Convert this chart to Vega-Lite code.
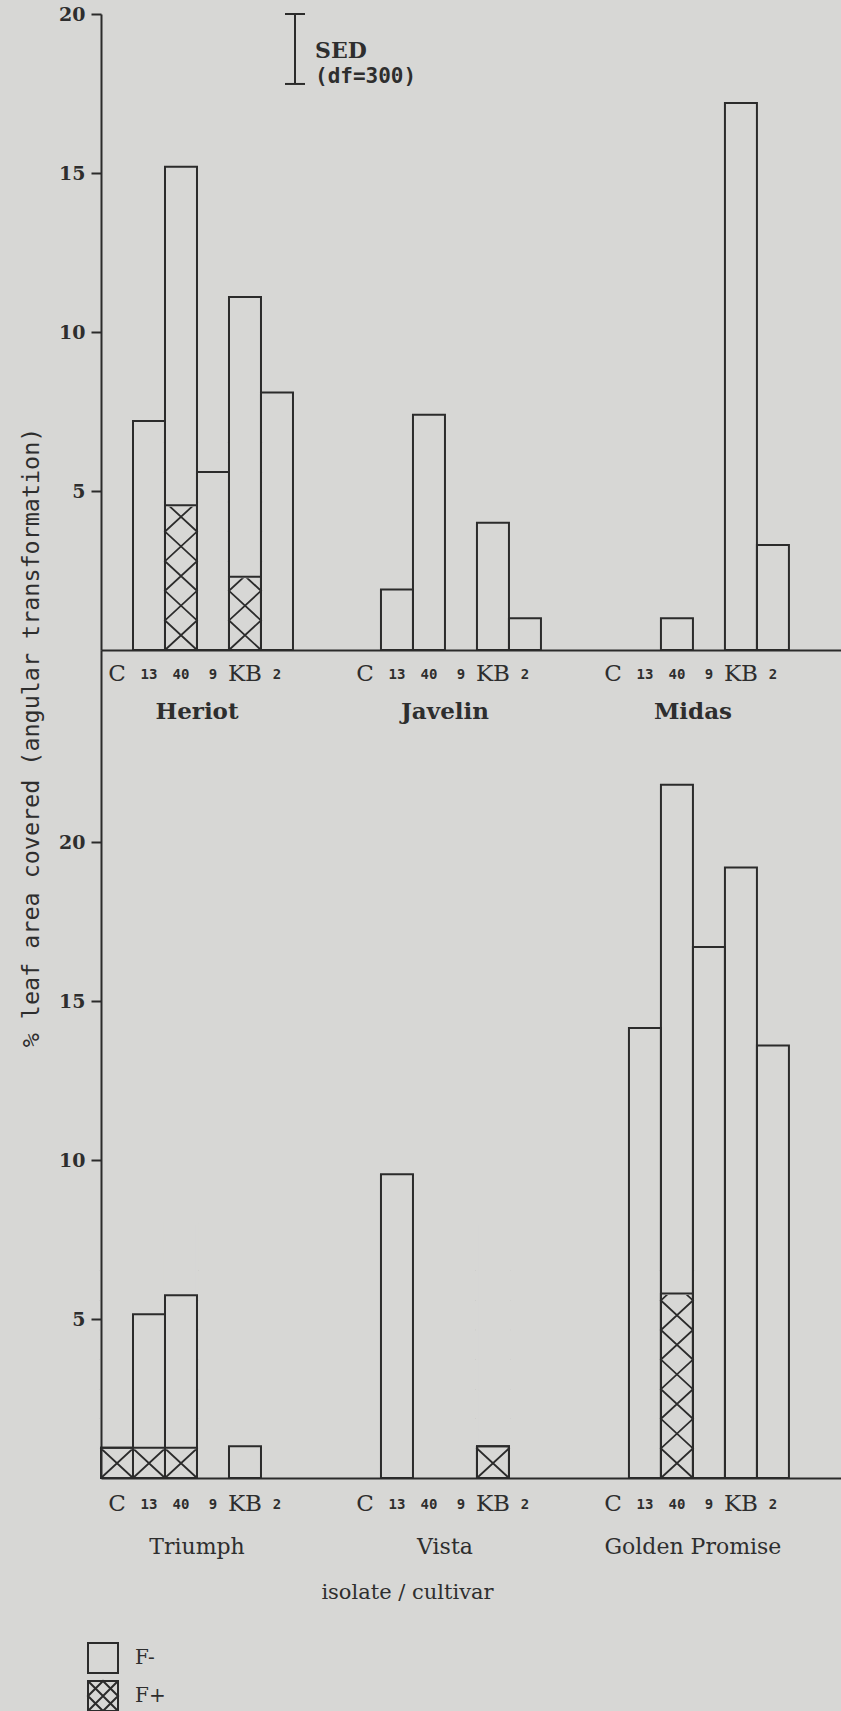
{
  "$schema": "https://vega.github.io/schema/vega-lite/v6.json",
  "background": "#d7d7d5",
  "padding": {"left": 18, "top": 5, "right": 0, "bottom": 10},
  "autosize": {"type": "pad"},
  "bounds": "flush",
  "spacing": 0,
  "datasets": {
    "upper": [
      {"cultivar": "Heriot", "isolate": "C", "f_minus": 0, "f_plus": 0},
      {"cultivar": "Heriot", "isolate": "13", "f_minus": 7.2, "f_plus": 0},
      {"cultivar": "Heriot", "isolate": "40", "f_minus": 15.2, "f_plus": 4.55},
      {"cultivar": "Heriot", "isolate": "9", "f_minus": 5.6, "f_plus": 0},
      {"cultivar": "Heriot", "isolate": "KB", "f_minus": 11.1, "f_plus": 2.3},
      {"cultivar": "Heriot", "isolate": "2", "f_minus": 8.1, "f_plus": 0},
      {"cultivar": "Javelin", "isolate": "C", "f_minus": 0, "f_plus": 0},
      {"cultivar": "Javelin", "isolate": "13", "f_minus": 1.9, "f_plus": 0},
      {"cultivar": "Javelin", "isolate": "40", "f_minus": 7.4, "f_plus": 0},
      {"cultivar": "Javelin", "isolate": "9", "f_minus": 0, "f_plus": 0},
      {"cultivar": "Javelin", "isolate": "KB", "f_minus": 4.0, "f_plus": 0},
      {"cultivar": "Javelin", "isolate": "2", "f_minus": 1.0, "f_plus": 0},
      {"cultivar": "Midas", "isolate": "C", "f_minus": 0, "f_plus": 0},
      {"cultivar": "Midas", "isolate": "13", "f_minus": 0, "f_plus": 0},
      {"cultivar": "Midas", "isolate": "40", "f_minus": 1.0, "f_plus": 0},
      {"cultivar": "Midas", "isolate": "9", "f_minus": 0, "f_plus": 0},
      {"cultivar": "Midas", "isolate": "KB", "f_minus": 17.2, "f_plus": 0},
      {"cultivar": "Midas", "isolate": "2", "f_minus": 3.3, "f_plus": 0}
    ],
    "lower": [
      {"cultivar": "Triumph", "isolate": "C", "f_minus": 0.95, "f_plus": 0.95},
      {"cultivar": "Triumph", "isolate": "13", "f_minus": 5.15, "f_plus": 0.95},
      {"cultivar": "Triumph", "isolate": "40", "f_minus": 5.75, "f_plus": 0.95},
      {"cultivar": "Triumph", "isolate": "9", "f_minus": 0, "f_plus": 0},
      {"cultivar": "Triumph", "isolate": "KB", "f_minus": 1.0, "f_plus": 0},
      {"cultivar": "Triumph", "isolate": "2", "f_minus": 0, "f_plus": 0},
      {"cultivar": "Vista", "isolate": "C", "f_minus": 0, "f_plus": 0},
      {"cultivar": "Vista", "isolate": "13", "f_minus": 9.55, "f_plus": 0},
      {"cultivar": "Vista", "isolate": "40", "f_minus": 0, "f_plus": 0},
      {"cultivar": "Vista", "isolate": "9", "f_minus": 0, "f_plus": 0},
      {"cultivar": "Vista", "isolate": "KB", "f_minus": 1.0, "f_plus": 1.0},
      {"cultivar": "Vista", "isolate": "2", "f_minus": 0, "f_plus": 0},
      {"cultivar": "Golden Promise", "isolate": "C", "f_minus": 0, "f_plus": 0},
      {"cultivar": "Golden Promise", "isolate": "13", "f_minus": 14.15, "f_plus": 0},
      {"cultivar": "Golden Promise", "isolate": "40", "f_minus": 21.8, "f_plus": 5.8},
      {"cultivar": "Golden Promise", "isolate": "9", "f_minus": 16.7, "f_plus": 0},
      {"cultivar": "Golden Promise", "isolate": "KB", "f_minus": 19.2, "f_plus": 0},
      {"cultivar": "Golden Promise", "isolate": "2", "f_minus": 13.6, "f_plus": 0}
    ],
    "sed": [{"lo": 17.8, "hi": 20}],
    "series": [{"series": "F-"}, {"series": "F+"}]
  },
  "vconcat": [
    {
      "width": 741,
      "height": 636,
      "data": {"name": "upper"},
      "layer": [
        {
          "transform": [{"filter": "datum.f_plus > 0"}],
          "mark": {"type": "point", "shape": "M-1,0L1,-1.85L-1,-3.7L1,-5.55L-1,-7.4L1,-9.25L-1,-11.1L1,-12.95L-1,-14.8M1,0L-1,-1.85L1,-3.7L-1,-5.55L1,-7.4L-1,-9.25L1,-11.1L-1,-12.95L1,-14.8", "size": 1024, "filled": false, "color": "#2b2b2b", "strokeWidth": 1.8, "opacity": 1},
          "encoding": {
            "x": {"field": "cultivar", "type": "nominal", "scale": {"domain": ["Heriot", "Javelin", "Midas"], "paddingInner": 0.2258, "paddingOuter": 0.107, "align": 0}, "axis": {"labels": false, "ticks": false, "title": null, "zindex": 1}},
            "xOffset": {"field": "isolate", "type": "nominal", "scale": {"domain": ["C", "13", "40", "9", "KB", "2"], "paddingInner": 0, "paddingOuter": 0}},
            "y": {"datum": 0, "type": "quantitative", "scale": {"domain": [0, 20], "nice": false, "zero": false}, "axis": {"values": [5, 10, 15, 20], "title": null, "zindex": 1}}
          }
        },
        {
          "transform": [{"filter": "datum.f_plus > 0"}],
          "mark": {"type": "bar", "fill": "#d7d7d5", "stroke": "#d7d7d5", "strokeWidth": 3},
          "encoding": {
            "x": {"field": "cultivar", "type": "nominal", "scale": {"domain": ["Heriot", "Javelin", "Midas"], "paddingInner": 0.2258, "paddingOuter": 0.107, "align": 0}, "axis": {"labels": false, "ticks": false, "title": null, "zindex": 1}},
            "xOffset": {"field": "isolate", "type": "nominal", "scale": {"domain": ["C", "13", "40", "9", "KB", "2"], "paddingInner": 0, "paddingOuter": 0}},
            "y": {"field": "f_plus", "type": "quantitative", "stack": null, "scale": {"domain": [0, 20], "nice": false, "zero": false}, "axis": {"values": [5, 10, 15, 20], "title": null, "zindex": 1}},
            "y2": {"datum": 8}
          }
        },
        {
          "transform": [{"filter": "datum.f_plus > 0"}],
          "mark": {"type": "bar", "fill": "transparent", "stroke": "#2b2b2b", "strokeWidth": 2},
          "encoding": {
            "x": {"field": "cultivar", "type": "nominal", "scale": {"domain": ["Heriot", "Javelin", "Midas"], "paddingInner": 0.2258, "paddingOuter": 0.107, "align": 0}, "axis": {"labels": false, "ticks": false, "title": null, "zindex": 1}},
            "xOffset": {"field": "isolate", "type": "nominal", "scale": {"domain": ["C", "13", "40", "9", "KB", "2"], "paddingInner": 0, "paddingOuter": 0}},
            "y": {"field": "f_plus", "type": "quantitative", "stack": null, "scale": {"domain": [0, 20], "nice": false, "zero": false}, "axis": {"values": [5, 10, 15, 20], "title": null, "zindex": 1}}
          }
        },
        {
          "transform": [{"filter": "datum.f_minus > 0"}],
          "mark": {"type": "bar", "fill": "transparent", "stroke": "#2b2b2b", "strokeWidth": 2},
          "encoding": {
            "x": {"field": "cultivar", "type": "nominal", "scale": {"domain": ["Heriot", "Javelin", "Midas"], "paddingInner": 0.2258, "paddingOuter": 0.107, "align": 0}, "axis": {"labels": false, "ticks": false, "title": null, "zindex": 1}},
            "xOffset": {"field": "isolate", "type": "nominal", "scale": {"domain": ["C", "13", "40", "9", "KB", "2"], "paddingInner": 0, "paddingOuter": 0}},
            "y": {"field": "f_minus", "type": "quantitative", "stack": null, "scale": {"domain": [0, 20], "nice": false, "zero": false}, "axis": {"values": [5, 10, 15, 20], "title": null, "zindex": 1}}
          }
        },
        {
          "transform": [{"filter": "datum.isolate === 'C' || datum.isolate === 'KB'"}],
          "mark": {"type": "text", "font": "DejaVu Serif", "fontSize": 23, "color": "#2e2e2e", "baseline": "middle", "dy": 24},
          "encoding": {
            "x": {"field": "cultivar", "type": "nominal", "scale": {"domain": ["Heriot", "Javelin", "Midas"], "paddingInner": 0.2258, "paddingOuter": 0.107, "align": 0}, "axis": {"labels": false, "ticks": false, "title": null, "zindex": 1}},
            "xOffset": {"field": "isolate", "type": "nominal", "scale": {"domain": ["C", "13", "40", "9", "KB", "2"], "paddingInner": 0, "paddingOuter": 0}},
            "y": {"datum": 0, "type": "quantitative", "scale": {"domain": [0, 20], "nice": false, "zero": false}, "axis": {"values": [5, 10, 15, 20], "title": null, "zindex": 1}},
            "text": {"field": "isolate"}
          }
        },
        {
          "transform": [{"filter": "datum.isolate !== 'C' && datum.isolate !== 'KB'"}],
          "mark": {"type": "text", "font": "DejaVu Sans Mono", "fontWeight": "bold", "fontSize": 14, "color": "#2e2e2e", "baseline": "middle", "dy": 25},
          "encoding": {
            "x": {"field": "cultivar", "type": "nominal", "scale": {"domain": ["Heriot", "Javelin", "Midas"], "paddingInner": 0.2258, "paddingOuter": 0.107, "align": 0}, "axis": {"labels": false, "ticks": false, "title": null, "zindex": 1}},
            "xOffset": {"field": "isolate", "type": "nominal", "scale": {"domain": ["C", "13", "40", "9", "KB", "2"], "paddingInner": 0, "paddingOuter": 0}},
            "y": {"datum": 0, "type": "quantitative", "scale": {"domain": [0, 20], "nice": false, "zero": false}, "axis": {"values": [5, 10, 15, 20], "title": null, "zindex": 1}},
            "text": {"field": "isolate"}
          }
        },
        {
          "transform": [{"aggregate": [{"op": "count", "as": "n"}], "groupby": ["cultivar"]}],
          "mark": {"type": "text", "font": "DejaVu Serif", "fontWeight": "bold", "fontSize": 23, "color": "#2e2e2e", "baseline": "middle", "dy": 62},
          "encoding": {
            "x": {"field": "cultivar", "type": "nominal", "scale": {"domain": ["Heriot", "Javelin", "Midas"], "paddingInner": 0.2258, "paddingOuter": 0.107, "align": 0}, "axis": {"labels": false, "ticks": false, "title": null, "zindex": 1}},
            "y": {"datum": 0, "type": "quantitative", "scale": {"domain": [0, 20], "nice": false, "zero": false}, "axis": {"values": [5, 10, 15, 20], "title": null, "zindex": 1}},
            "text": {"field": "cultivar"}
          }
        },
        {
          "data": {"name": "sed"},
          "mark": {"type": "rule", "color": "#2b2b2b", "strokeWidth": 2, "xOffset": 98},
          "encoding": {
            "x": {"datum": "Heriot", "type": "nominal", "scale": {"domain": ["Heriot", "Javelin", "Midas"], "paddingInner": 0.2258, "paddingOuter": 0.107, "align": 0}, "axis": {"labels": false, "ticks": false, "title": null, "zindex": 1}},
            "y": {"field": "lo", "type": "quantitative", "scale": {"domain": [0, 20], "nice": false, "zero": false}, "axis": {"values": [5, 10, 15, 20], "title": null, "zindex": 1}},
            "y2": {"field": "hi"}
          }
        },
        {
          "data": {"name": "sed"},
          "mark": {"type": "tick", "color": "#2b2b2b", "size": 20, "thickness": 2, "opacity": 1, "xOffset": 98},
          "encoding": {
            "x": {"datum": "Heriot", "type": "nominal", "scale": {"domain": ["Heriot", "Javelin", "Midas"], "paddingInner": 0.2258, "paddingOuter": 0.107, "align": 0}, "axis": {"labels": false, "ticks": false, "title": null, "zindex": 1}},
            "y": {"field": "hi", "type": "quantitative", "scale": {"domain": [0, 20], "nice": false, "zero": false}, "axis": {"values": [5, 10, 15, 20], "title": null, "zindex": 1}}
          }
        },
        {
          "data": {"name": "sed"},
          "mark": {"type": "tick", "color": "#2b2b2b", "size": 20, "thickness": 2, "opacity": 1, "xOffset": 98},
          "encoding": {
            "x": {"datum": "Heriot", "type": "nominal", "scale": {"domain": ["Heriot", "Javelin", "Midas"], "paddingInner": 0.2258, "paddingOuter": 0.107, "align": 0}, "axis": {"labels": false, "ticks": false, "title": null, "zindex": 1}},
            "y": {"field": "lo", "type": "quantitative", "scale": {"domain": [0, 20], "nice": false, "zero": false}, "axis": {"values": [5, 10, 15, 20], "title": null, "zindex": 1}}
          }
        },
        {
          "data": {"name": "sed"},
          "mark": {"type": "text", "text": "SED", "font": "DejaVu Serif", "fontWeight": "bold", "fontSize": 22, "color": "#2e2e2e", "align": "left", "baseline": "middle", "xOffset": 118, "dy": 37},
          "encoding": {
            "x": {"datum": "Heriot", "type": "nominal", "scale": {"domain": ["Heriot", "Javelin", "Midas"], "paddingInner": 0.2258, "paddingOuter": 0.107, "align": 0}, "axis": {"labels": false, "ticks": false, "title": null, "zindex": 1}},
            "y": {"field": "hi", "type": "quantitative", "scale": {"domain": [0, 20], "nice": false, "zero": false}, "axis": {"values": [5, 10, 15, 20], "title": null, "zindex": 1}}
          }
        },
        {
          "data": {"name": "sed"},
          "mark": {"type": "text", "text": "(df=300)", "font": "DejaVu Sans Mono", "fontWeight": "bold", "fontSize": 21, "color": "#2e2e2e", "align": "left", "baseline": "middle", "xOffset": 118, "dy": 63},
          "encoding": {
            "x": {"datum": "Heriot", "type": "nominal", "scale": {"domain": ["Heriot", "Javelin", "Midas"], "paddingInner": 0.2258, "paddingOuter": 0.107, "align": 0}, "axis": {"labels": false, "ticks": false, "title": null, "zindex": 1}},
            "y": {"field": "hi", "type": "quantitative", "scale": {"domain": [0, 20], "nice": false, "zero": false}, "axis": {"values": [5, 10, 15, 20], "title": null, "zindex": 1}}
          }
        }
      ]
    },
    {
      "width": 741,
      "height": 828,
      "data": {"name": "lower"},
      "layer": [
        {
          "transform": [{"filter": "datum.f_plus > 0"}],
          "mark": {"type": "point", "shape": "M-1,0L1,-1.85L-1,-3.7L1,-5.55L-1,-7.4L1,-9.25L-1,-11.1L1,-12.95L-1,-14.8M1,0L-1,-1.85L1,-3.7L-1,-5.55L1,-7.4L-1,-9.25L1,-11.1L-1,-12.95L1,-14.8", "size": 1024, "filled": false, "color": "#2b2b2b", "strokeWidth": 1.8, "opacity": 1},
          "encoding": {
            "x": {"field": "cultivar", "type": "nominal", "scale": {"domain": ["Triumph", "Vista", "Golden Promise"], "paddingInner": 0.2258, "paddingOuter": 0.107, "align": 0}, "axis": {"labels": false, "ticks": false, "title": "isolate / cultivar", "titleX": 306, "titleY": 114, "titleAlign": "center", "titleBaseline": "middle", "zindex": 1}},
            "xOffset": {"field": "isolate", "type": "nominal", "scale": {"domain": ["C", "13", "40", "9", "KB", "2"], "paddingInner": 0, "paddingOuter": 0}},
            "y": {"datum": 0, "type": "quantitative", "scale": {"domain": [0, 26.04], "nice": false, "zero": false}, "axis": {"values": [5, 10, 15, 20], "title": "% leaf area covered (angular transformation)", "titleX": -70, "titleY": 87, "titleAngle": 270, "titleAlign": "center", "titleBaseline": "middle", "zindex": 1}}
          }
        },
        {
          "transform": [{"filter": "datum.f_plus > 0"}],
          "mark": {"type": "bar", "fill": "#d7d7d5", "stroke": "#d7d7d5", "strokeWidth": 3},
          "encoding": {
            "x": {"field": "cultivar", "type": "nominal", "scale": {"domain": ["Triumph", "Vista", "Golden Promise"], "paddingInner": 0.2258, "paddingOuter": 0.107, "align": 0}, "axis": {"labels": false, "ticks": false, "title": "isolate / cultivar", "titleX": 306, "titleY": 114, "titleAlign": "center", "titleBaseline": "middle", "zindex": 1}},
            "xOffset": {"field": "isolate", "type": "nominal", "scale": {"domain": ["C", "13", "40", "9", "KB", "2"], "paddingInner": 0, "paddingOuter": 0}},
            "y": {"field": "f_plus", "type": "quantitative", "stack": null, "scale": {"domain": [0, 26.04], "nice": false, "zero": false}, "axis": {"values": [5, 10, 15, 20], "title": "% leaf area covered (angular transformation)", "titleX": -70, "titleY": 87, "titleAngle": 270, "titleAlign": "center", "titleBaseline": "middle", "zindex": 1}},
            "y2": {"datum": 8}
          }
        },
        {
          "transform": [{"filter": "datum.f_plus > 0"}],
          "mark": {"type": "bar", "fill": "transparent", "stroke": "#2b2b2b", "strokeWidth": 2},
          "encoding": {
            "x": {"field": "cultivar", "type": "nominal", "scale": {"domain": ["Triumph", "Vista", "Golden Promise"], "paddingInner": 0.2258, "paddingOuter": 0.107, "align": 0}, "axis": {"labels": false, "ticks": false, "title": "isolate / cultivar", "titleX": 306, "titleY": 114, "titleAlign": "center", "titleBaseline": "middle", "zindex": 1}},
            "xOffset": {"field": "isolate", "type": "nominal", "scale": {"domain": ["C", "13", "40", "9", "KB", "2"], "paddingInner": 0, "paddingOuter": 0}},
            "y": {"field": "f_plus", "type": "quantitative", "stack": null, "scale": {"domain": [0, 26.04], "nice": false, "zero": false}, "axis": {"values": [5, 10, 15, 20], "title": "% leaf area covered (angular transformation)", "titleX": -70, "titleY": 87, "titleAngle": 270, "titleAlign": "center", "titleBaseline": "middle", "zindex": 1}}
          }
        },
        {
          "transform": [{"filter": "datum.f_minus > 0"}],
          "mark": {"type": "bar", "fill": "transparent", "stroke": "#2b2b2b", "strokeWidth": 2},
          "encoding": {
            "x": {"field": "cultivar", "type": "nominal", "scale": {"domain": ["Triumph", "Vista", "Golden Promise"], "paddingInner": 0.2258, "paddingOuter": 0.107, "align": 0}, "axis": {"labels": false, "ticks": false, "title": "isolate / cultivar", "titleX": 306, "titleY": 114, "titleAlign": "center", "titleBaseline": "middle", "zindex": 1}},
            "xOffset": {"field": "isolate", "type": "nominal", "scale": {"domain": ["C", "13", "40", "9", "KB", "2"], "paddingInner": 0, "paddingOuter": 0}},
            "y": {"field": "f_minus", "type": "quantitative", "stack": null, "scale": {"domain": [0, 26.04], "nice": false, "zero": false}, "axis": {"values": [5, 10, 15, 20], "title": "% leaf area covered (angular transformation)", "titleX": -70, "titleY": 87, "titleAngle": 270, "titleAlign": "center", "titleBaseline": "middle", "zindex": 1}}
          }
        },
        {
          "transform": [{"filter": "datum.isolate === 'C' || datum.isolate === 'KB'"}],
          "mark": {"type": "text", "font": "DejaVu Serif", "fontSize": 23, "color": "#2e2e2e", "baseline": "middle", "dy": 26},
          "encoding": {
            "x": {"field": "cultivar", "type": "nominal", "scale": {"domain": ["Triumph", "Vista", "Golden Promise"], "paddingInner": 0.2258, "paddingOuter": 0.107, "align": 0}, "axis": {"labels": false, "ticks": false, "title": "isolate / cultivar", "titleX": 306, "titleY": 114, "titleAlign": "center", "titleBaseline": "middle", "zindex": 1}},
            "xOffset": {"field": "isolate", "type": "nominal", "scale": {"domain": ["C", "13", "40", "9", "KB", "2"], "paddingInner": 0, "paddingOuter": 0}},
            "y": {"datum": 0, "type": "quantitative", "scale": {"domain": [0, 26.04], "nice": false, "zero": false}, "axis": {"values": [5, 10, 15, 20], "title": "% leaf area covered (angular transformation)", "titleX": -70, "titleY": 87, "titleAngle": 270, "titleAlign": "center", "titleBaseline": "middle", "zindex": 1}},
            "text": {"field": "isolate"}
          }
        },
        {
          "transform": [{"filter": "datum.isolate !== 'C' && datum.isolate !== 'KB'"}],
          "mark": {"type": "text", "font": "DejaVu Sans Mono", "fontWeight": "bold", "fontSize": 14, "color": "#2e2e2e", "baseline": "middle", "dy": 27},
          "encoding": {
            "x": {"field": "cultivar", "type": "nominal", "scale": {"domain": ["Triumph", "Vista", "Golden Promise"], "paddingInner": 0.2258, "paddingOuter": 0.107, "align": 0}, "axis": {"labels": false, "ticks": false, "title": "isolate / cultivar", "titleX": 306, "titleY": 114, "titleAlign": "center", "titleBaseline": "middle", "zindex": 1}},
            "xOffset": {"field": "isolate", "type": "nominal", "scale": {"domain": ["C", "13", "40", "9", "KB", "2"], "paddingInner": 0, "paddingOuter": 0}},
            "y": {"datum": 0, "type": "quantitative", "scale": {"domain": [0, 26.04], "nice": false, "zero": false}, "axis": {"values": [5, 10, 15, 20], "title": "% leaf area covered (angular transformation)", "titleX": -70, "titleY": 87, "titleAngle": 270, "titleAlign": "center", "titleBaseline": "middle", "zindex": 1}},
            "text": {"field": "isolate"}
          }
        },
        {
          "transform": [{"aggregate": [{"op": "count", "as": "n"}], "groupby": ["cultivar"]}],
          "mark": {"type": "text", "font": "DejaVu Serif", "fontSize": 22, "color": "#2e2e2e", "baseline": "middle", "dy": 69},
          "encoding": {
            "x": {"field": "cultivar", "type": "nominal", "scale": {"domain": ["Triumph", "Vista", "Golden Promise"], "paddingInner": 0.2258, "paddingOuter": 0.107, "align": 0}, "axis": {"labels": false, "ticks": false, "title": "isolate / cultivar", "titleX": 306, "titleY": 114, "titleAlign": "center", "titleBaseline": "middle", "zindex": 1}},
            "y": {"datum": 0, "type": "quantitative", "scale": {"domain": [0, 26.04], "nice": false, "zero": false}, "axis": {"values": [5, 10, 15, 20], "title": "% leaf area covered (angular transformation)", "titleX": -70, "titleY": 87, "titleAngle": 270, "titleAlign": "center", "titleBaseline": "middle", "zindex": 1}},
            "text": {"field": "cultivar"}
          }
        },
        {
          "data": {"name": "series"},
          "mark": {"type": "point", "filled": false, "color": "#2b2b2b", "opacity": 0},
          "encoding": {
            "shape": {
              "field": "series",
              "type": "nominal",
              "scale": {"domain": ["F-", "F+"], "range": ["M-1,-1H1V1H-1Z", "M-1,-1H1V1H-1ZM-1,-1L1,1M1,-1L-1,1M-1,0L0,-1L1,0L0,1Z"]},
              "legend": {
                "title": null,
                "orient": "none",
                "legendX": -14,
                "legendY": 1628,
                "padding": 0,
                "symbolSize": 900,
                "symbolStrokeWidth": 2,
                "symbolStrokeColor": "#2b2b2b",
                "symbolFillColor": "transparent",
                "symbolOpacity": 1,
                "rowPadding": 0,
                "labelFont": "DejaVu Serif",
                "labelFontSize": 20,
                "labelColor": "#2e2e2e",
                "labelOffset": 16
              }
            }
          }
        }
      ]
    }
  ],
  "config": {
    "view": {"stroke": null, "fill": null},
    "axis": {
      "domainColor": "#2b2b2b",
      "domainWidth": 2,
      "tickColor": "#2b2b2b",
      "tickWidth": 2,
      "tickSize": 10,
      "labelFont": "DejaVu Serif",
      "labelFontWeight": "bold",
      "labelFontSize": 19,
      "labelColor": "#2e2e2e",
      "labelPadding": 6,
      "grid": false,
      "titleColor": "#2e2e2e",
      "titleFontWeight": "normal"
    },
    "axisY": {"titleFont": "DejaVu Sans Mono", "titleFontSize": 23.4},
    "axisX": {"titleFont": "DejaVu Serif", "titleFontSize": 21}
  }
}
